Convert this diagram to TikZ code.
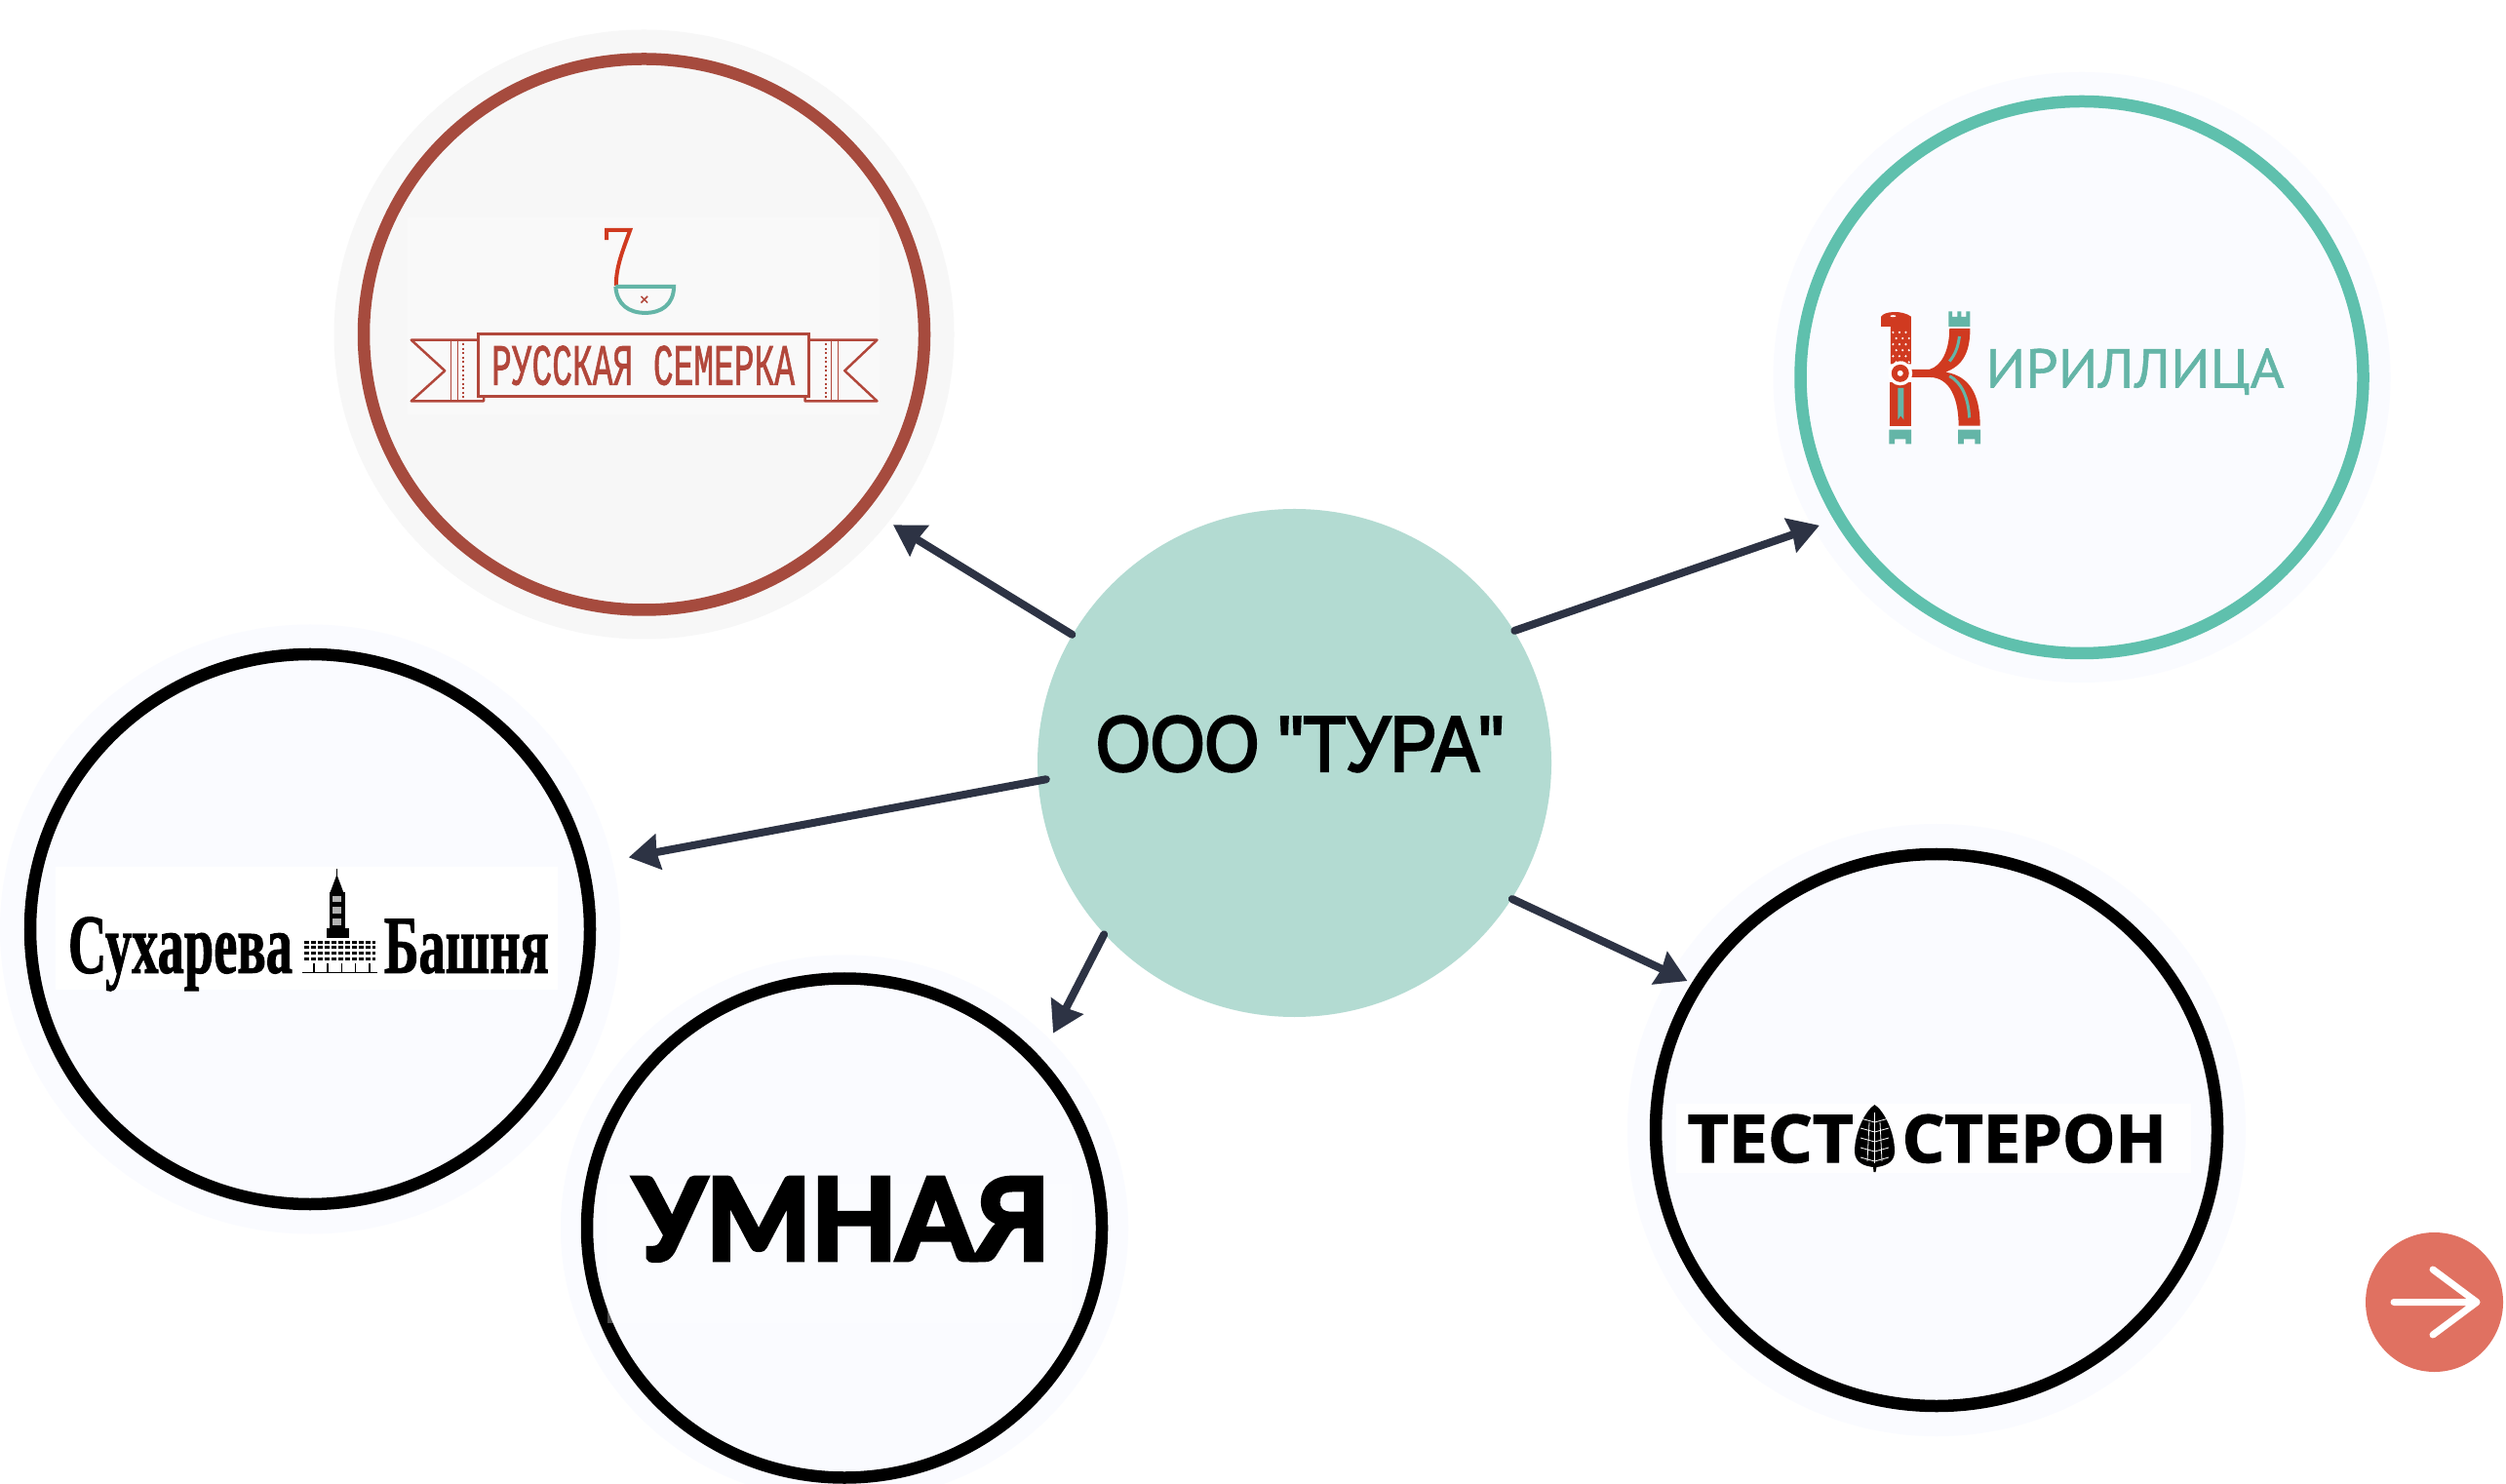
\documentclass[tikz,border=0pt]{standalone}
\usepackage{fontspec}
\setmainfont{Liberation Sans}
\newfontfamily\turaface[FakeBold=3.5]{Liberation Sans}
\newfontfamily\serifface[BoldFeatures={FakeBold=1.5}]{Liberation Serif}
\newfontfamily\monoface[FakeBold=1.5]{Liberation Mono}
\newfontfamily\kirface[FakeBold=1]{PT Sans}
\newfontfamily\umnface[BoldFeatures={FakeBold=4}]{Lato}
\newfontfamily\testface[BoldFeatures={FakeBold=2}]{Open Sans}
\usetikzlibrary{shapes.geometric,arrows.meta}

\definecolor{glowgrey}{HTML}{F7F7F7}
\definecolor{glowblue}{HTML}{FAFBFF}
\definecolor{ringbrown}{HTML}{A64B3E}
\definecolor{ringteal}{HTML}{5FC0AD}
\definecolor{hubteal}{HTML}{B3DBD2}
\definecolor{arrowdark}{HTML}{2D3344}
\definecolor{btnred}{HTML}{E07161}
\definecolor{kred}{HTML}{D03A20}
\definecolor{kteal}{HTML}{64B5A7}
\definecolor{ribbonred}{HTML}{B2473B}

\begin{document}
\begin{tikzpicture}[
    glow/.style={ellipse,inner sep=0},
    ring/.style={ellipse,inner sep=0,draw,line width=0.125cm},
    conn/.style={arrowdark,line width=0.08cm,line cap=round,-{Stealth[length=0.31cm,width=0.36cm,inset=0.02cm]}},
    logotext/.style={inner sep=0,anchor=base west}]

  \useasboundingbox (0,0) rectangle (25.70,15.21);
  \clip (0,0) rectangle (25.70,15.21);
  \fill[white] (0,0) rectangle (25.70,15.21);

  % halos
  \node[glow,fill=glowgrey,minimum width=6.36cm,minimum height=6.25cm] (semerkaglow) at (6.605,11.78) {};
  \node[glow,fill=glowblue,minimum width=6.33cm,minimum height=6.26cm] (kirillicaglow) at (21.35,11.34) {};
  \node[glow,fill=glowblue,minimum width=6.36cm,minimum height=6.25cm] (suharevaglow) at (3.18,5.68) {};
  \node[glow,fill=glowblue,minimum width=5.82cm,minimum height=5.60cm] (umnayaglow) at (8.66,2.615) {};
  \node[glow,fill=glowblue,minimum width=6.34cm,minimum height=6.28cm] (testoglow) at (19.86,3.62) {};

  % rings
  \node[ring,draw=ringbrown,fill=glowgrey,minimum width=5.75cm,minimum height=5.65cm] (semerka) at (6.605,11.78) {};
  \node[ring,draw=ringteal,fill=glowblue,minimum width=5.77cm,minimum height=5.66cm] (kirillica) at (21.35,11.34) {};
  \node[ring,draw=black,fill=glowblue,minimum width=5.74cm,minimum height=5.64cm] (suhareva) at (3.18,5.68) {};
  \node[ring,draw=black,fill=glowblue,minimum width=5.28cm,minimum height=5.12cm] (umnaya) at (8.66,2.615) {};
  \node[ring,draw=black,fill=glowblue,minimum width=5.76cm,minimum height=5.66cm] (testo) at (19.86,3.62) {};

  % centre
  \node[ellipse,inner sep=0,fill=hubteal,minimum width=5.27cm,minimum height=5.21cm] (tura) at (13.275,7.385) {};
  \node[inner sep=0] (turatext) at (13.33,7.58) {\resizebox{4.18cm}{0.56cm}{\turaface ООО "ТУРА"}};

  % arrows
  \draw[conn,shorten >=0.30cm] (tura.150.6) -- (semerka.-38.1);
  \draw[conn,shorten >=0.16cm] (tura.31) -- (kirillica.210.1);
  \draw[conn,shorten >=0.42cm,shorten <=-0.09cm] (tura.184.6) -- (suhareva.13.8);
  \draw[conn,shorten >=0.28cm] (tura.222.8) -- (umnaya.41.3);
  \draw[conn,shorten >=0.05cm] (tura.328.6) -- (testo.149.9);

  % russkaya semerka
  \begin{scope}[shift={(3.40,15.01)},x=0.004146cm,y=-0.004146cm]
    \fill[white,opacity=0.25] (188,488) rectangle (1355,975);
    \draw[ribbonred,line width=0.03cm] (363,778) rectangle (1180,932);
    \draw[ribbonred,line width=0.025cm,line join=round] (363,792) -- (197,792) -- (280,868) -- (197,943) -- (376,943) -- (376,932);
    \draw[ribbonred,line width=0.025cm,line join=round] (1180,792) -- (1348,792) -- (1268,868) -- (1348,943) -- (1170,943) -- (1170,932);
    \foreach \x in {295,312,1235,1252}
      \draw[ribbonred,line width=0.015cm] (\x,792) -- (\x,943);
    \foreach \x in {325,1222}
      \draw[ribbonred,line width=0.02cm,dash pattern=on 0.02cm off 0.025cm] (\x,800) -- (\x,938);
    % ladle
    \draw[kred,line width=0.04cm] (680,545) -- (680,520) -- (738,520) .. controls (720,570) and (703,610) .. (703,658);
    \draw[kteal,line width=0.04cm] (702,660) -- (846,660) .. controls (845,705) and (815,725) .. (775,725) .. controls (735,725) and (705,705) .. (702,660);
    \draw[ribbonred,line width=0.015cm] (765,684) -- (781,700) (781,684) -- (765,700);
    \node[inner sep=0,text=ribbonred] (semerkatext) at (770,855) {\resizebox{3.11cm}{0.40cm}{\monoface РУССКАЯ СЕМЕРКА}};
  \end{scope}

  % kirillica
  \begin{scope}[shift={(18.20,14.51)},x=0.00408cm,y=-0.00408cm]
    \fill[kred] (292,745) -- (292,650) -- (268,650) -- (268,625) .. controls (275,612) and (320,608) .. (343,625) -- (343,745) -- cycle;
    \fill[white] (298,624) ellipse (0.03cm and 0.01cm);
    \foreach \y/\s in {665/0,680/8,695/0,710/8,725/0,740/8}
      \foreach \x in {298,314,330}
        \fill[white] (\x+\s,\y) circle (0.012cm);
    \fill[kred] (290,790) rectangle (343,900);
    \fill[kteal] (310,805) -- (325,805) -- (325,885) -- (317,875) -- (310,885) -- cycle;
    \fill[kred] (340,758) -- (390,758) .. controls (420,750) and (440,710) .. (440,655) -- (492,655) .. controls (492,720) and (470,750) .. (430,765) .. controls (490,775) and (517,820) .. (517,900) -- (463,900) .. controls (463,830) and (440,778) .. (390,778) -- (340,778) -- cycle;
    \draw[kteal,line width=0.03cm] (465,675) .. controls (462,700) and (455,720) .. (440,738);
    \draw[kteal,line width=0.03cm] (440,775) .. controls (470,790) and (488,830) .. (490,880);
    \fill[white] (316,768) circle (0.125cm);
    \fill[kred] (316,768) circle (0.09cm);
    \fill[white] (316,768) circle (0.03cm);
    \fill[kteal] (438,650) -- (438,612) -- (447,612) -- (447,626) -- (460,626) -- (460,612) -- (470,612) -- (470,626) -- (482,626) -- (482,612) -- (492,612) -- (492,650) -- cycle;
    \foreach \x in {288,462}
      \fill[kteal] (\x,910) -- ++(56,0) -- ++(0,36) -- ++(-14,0) -- ++(0,-12) -- ++(-28,0) -- ++(0,12) -- ++(-14,0) -- cycle;
    \node[logotext,text=kteal] (kirillicatext) at (530,804) {\resizebox{3.06cm}{0.40cm}{\kirface ИРИЛЛИЦА}};
  \end{scope}

  % suhareva bashnya
  \begin{scope}[shift={(0,8.81)},x=0.00408cm,y=-0.003953cm]
    \fill[white] (140,630) rectangle (1405,950);
    \node[logotext] (suharevaword) at (170,905) {\resizebox{2.30cm}{0.57cm}{\serifface\bfseries Сухарева}};
    \node[logotext] (bashnyaword) at (965,905) {\resizebox{1.69cm}{0.55cm}{\serifface\bfseries Башня}};
    \fill (846,635) rectangle (850,655);
    \fill (848,650) -- (865,697) -- (831,697) -- cycle;
    \fill (830,697) rectangle (868,790);
    \foreach \y in {705,735,765}
      \fill[white!70!black] (838,\y) rectangle (860,\y+16);
    \fill (822,790) rectangle (878,816);
    \foreach \y in {826,840,854,868}
      \draw[line width=0.03cm,dash pattern=on 0.05cm off 0.02cm] (765,\y) -- (945,\y);
    \draw[line width=0.01cm] (760,905) -- (950,905);
    \foreach \x in {790,825,860,895,930}
      \draw[line width=0.015cm] (\x,880) -- (\x,903);
  \end{scope}

  % umnaya
  \fill[white,opacity=0.3] (6.23,1.64) rectangle (10.99,3.07);
  \node[logotext] (umnayatext) at (6.495,2.29) {\resizebox{4.265cm}{0.84cm}{\umnface\bfseries УМНАЯ}};

  % testosteron
  \fill[white,opacity=0.8] (17.19,3.18) rectangle (22.47,3.89);
  \node[logotext] (testleft) at (17.30,3.29) {\resizebox{1.70cm}{0.49cm}{\testface\bfseries ТЕСТ}};
  \node[logotext] (testright) at (19.50,3.29) {\resizebox{2.71cm}{0.49cm}{\testface\bfseries СТЕРОН}};
  \fill (19.225,3.88) .. controls (19.32,3.82) and (19.43,3.60) .. (19.43,3.40) .. controls (19.43,3.28) and (19.32,3.25) .. (19.245,3.24) -- (19.235,3.19) -- (19.215,3.19) -- (19.21,3.24) .. controls (19.13,3.25) and (19.02,3.28) .. (19.02,3.40) .. controls (19.02,3.60) and (19.13,3.82) .. (19.225,3.88);
  \foreach \y in {3.34,3.44,3.54,3.64,3.74}
    \draw[white,line width=0.008cm] (19.08,\y) -- (19.225,\y-0.04) -- (19.37,\y);
  \foreach \a/\b/\c/\d in {19.17/3.70/19.15/3.30,19.28/3.70/19.30/3.30,19.225/3.80/19.225/3.28}
    \draw[white,line width=0.008cm] (\a,\b) -- (\c,\d);

  % forward button
  \node[ellipse,inner sep=0,fill=btnred,minimum width=1.41cm,minimum height=1.43cm] (forward) at (24.965,1.855) {};
  \begin{scope}[shift={(forward.center)}]
    \draw[white,line width=0.07cm,line cap=round,line join=round] (-0.415,0) -- (0.435,0) (-0.015,0.335) -- (0.435,0) -- (-0.015,-0.335);
  \end{scope}
\end{tikzpicture}
\end{document}
